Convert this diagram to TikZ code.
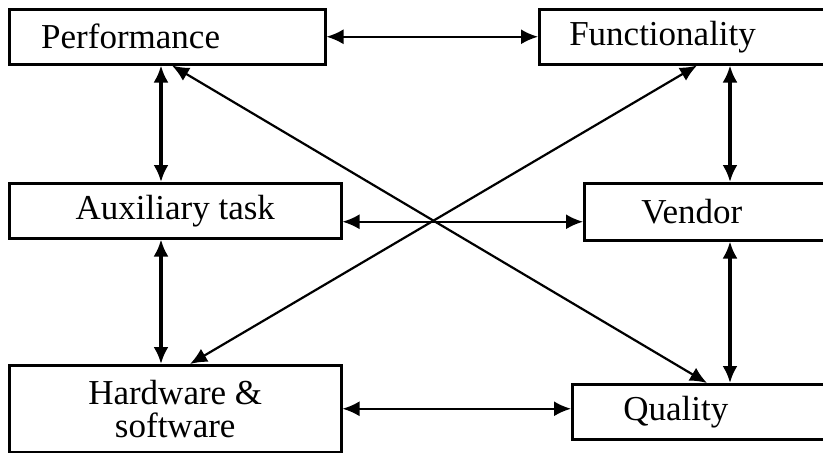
\documentclass[tikz,border=0pt]{standalone}
\usepackage{fontspec}
\setmainfont{Liberation Serif}
\usetikzlibrary{arrows.meta}
\newcommand{\boxfont}{\fontsize{35}{29}\selectfont}

\begin{document}
\begin{tikzpicture}[x=1pt,y=-1pt,
    box/.style={rectangle,draw=black,line width=2.5pt,anchor=north west,
      minimum height=55pt,inner ysep=0pt,font=\boxfont},
    leftbox/.style={box,align=left},
    midbox/.style={box,align=center,minimum width=332pt},
    link/.style={{Latex[length=17pt,width=15pt]}-{Latex[length=17pt,width=15pt]},line width=2.2pt},
    vlink/.style={link,line width=3.2pt}]
  \useasboundingbox (0,0) rectangle (823,453);
  \clip (0,0) rectangle (823,453);
  \node[leftbox,text width=252pt,inner xsep=32pt] (perf) at (8,8) {Performance};
  \node[leftbox,text width=242pt,inner xsep=30pt] (func) at (538,8) {Functionality};
  \node[midbox] (aux) at (8,182) {Auxiliary task};
  \node[leftbox,text width=143pt,inner xsep=57pt,minimum height=57pt] (vendor) at (583,182) {Vendor};
  \node[midbox,minimum height=87pt] (hw) at (8,364) {Hardware \&\\[4pt]software};
  \node[leftbox,text width=167pt,inner xsep=51pt] (qual) at (571,383) {Quality};
  \draw[link] (perf.east) -- (func.west);
  \draw[link] ([yshift=-11pt]aux.east) -- ([yshift=-11pt]aux.east -| vendor.west);
  \draw[link] (hw.east) -- (hw.east -| qual.west);
  \draw[vlink] ([xshift=153pt]perf.south west) -- ([xshift=153pt]aux.north west);
  \draw[vlink] ([xshift=153pt]aux.south west) -- ([xshift=153pt]hw.north west);
  \draw[vlink] ([xshift=192pt]func.south west) -- ([xshift=147pt]vendor.north west);
  \draw[vlink] ([xshift=147pt]vendor.south west) -- ([xshift=159pt]qual.north west);
  \draw[link] ([xshift=164pt]perf.south west) -- ([xshift=136pt]qual.north west);
  \draw[link] ([xshift=159pt]func.south west) -- ([xshift=182pt]hw.north west);
\end{tikzpicture}
\end{document}
